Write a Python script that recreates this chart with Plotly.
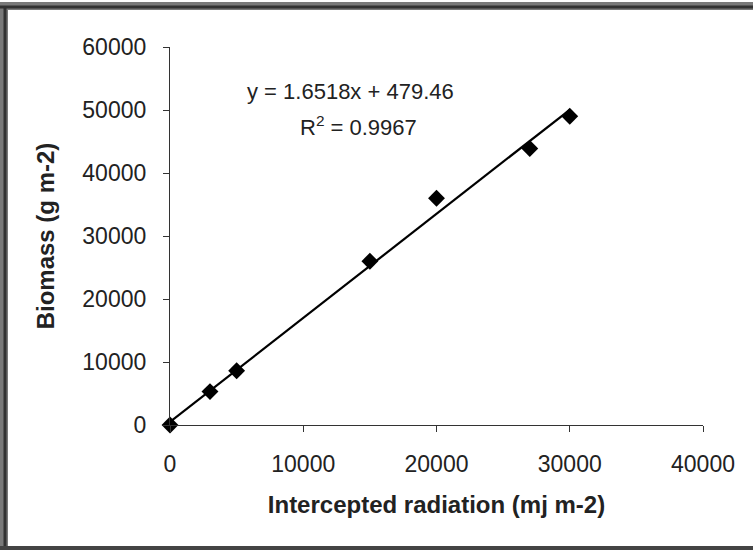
import plotly.graph_objects as go

# Data
radiation = [0, 3000, 5000, 15000, 20000, 27000, 30000]
biomass = [0, 5300, 8600, 26000, 36000, 43900, 49000]

slope = 1.6518
intercept = 479.46
fit_x = [0, 30000]
fit_y = [slope * v + intercept for v in fit_x]

x_ticks = [0, 10000, 20000, 30000, 40000]
y_ticks = [0, 10000, 20000, 30000, 40000, 50000, 60000]

W, H = 753, 550
L, R, T, B = 170, 50, 47, 125
pw, ph = W - L - R, H - T - B

def px(xp):
    return (xp - L) / pw

def py(yp):
    return (H - B - yp) / ph

FONT = "Liberation Sans, Arial, sans-serif"
TXT = "#222222"

fig = go.Figure()
fig.add_trace(go.Scatter(x=fit_x, y=fit_y, mode="lines",
                         line=dict(color="black", width=2.2),
                         showlegend=False, hoverinfo="skip", cliponaxis=False))
fig.add_trace(go.Scatter(x=radiation, y=biomass, mode="markers",
                         marker=dict(symbol="diamond", size=13, color="black"),
                         showlegend=False, cliponaxis=False))

fig.update_layout(
    width=W, height=H,
    margin=dict(l=L, r=R, t=T, b=B),
    paper_bgcolor="white", plot_bgcolor="white",
    font=dict(family=FONT, size=23, color=TXT),
    xaxis=dict(range=[0, 40000], tickvals=x_ticks, ticktext=[str(v) for v in x_ticks],
               showgrid=False, zeroline=False, showline=True, linecolor="#333",
               linewidth=1.2, ticks="outside", ticklen=6, tickcolor="#333",
               ticklabelstandoff=12, tickfont=dict(size=23),
               title=dict(text="<b>Intercepted radiation (mj m-2)</b>", standoff=20,
                          font=dict(size=24, color=TXT))),
    yaxis=dict(range=[0, 60000], tickvals=y_ticks, ticktext=[str(v) for v in y_ticks],
               showgrid=False, zeroline=False, showline=True, linecolor="#333",
               linewidth=1.2, ticks="outside", ticklen=6, tickcolor="#333",
               ticklabelstandoff=12, tickfont=dict(size=23),
               title=dict(text="<b>Biomass (g m-2)</b>", standoff=20,
                          font=dict(size=24, color=TXT))),
)

fig.add_annotation(xref="paper", yref="paper", x=px(350), y=py(91),
                   xanchor="center", yanchor="middle",
                   text="y = 1.6518x + 479.46", showarrow=False,
                   font=dict(size=22, color=TXT))
fig.add_annotation(xref="paper", yref="paper", x=px(358), y=py(126),
                   xanchor="center", yanchor="middle",
                   text="R<sup>2</sup> = 0.9967", showarrow=False,
                   font=dict(size=22, color=TXT))

# outer frame: left, top and bottom edges only
for col, wid, off in [("#7a7a7a", 8, 0), ("#333333", 3, 1)]:
    fig.add_shape(type="line", xref="paper", yref="paper",
                  x0=px(4 + off), x1=px(4 + off), y0=py(548), y1=py(6 + off),
                  line=dict(color=col, width=wid), layer="below")
    fig.add_shape(type="line", xref="paper", yref="paper",
                  x0=px(0), x1=px(760), y0=py(6 + off), y1=py(6 + off),
                  line=dict(color=col, width=wid), layer="below")
fig.add_shape(type="line", xref="paper", yref="paper",
              x0=px(0), x1=px(760), y0=py(548), y1=py(548),
              line=dict(color="#444444", width=4), layer="below")

fig.write_html("out.html", config={"displayModeBar": False},
               post_script="document.body.style.margin='0';document.body.style.padding='0';")
